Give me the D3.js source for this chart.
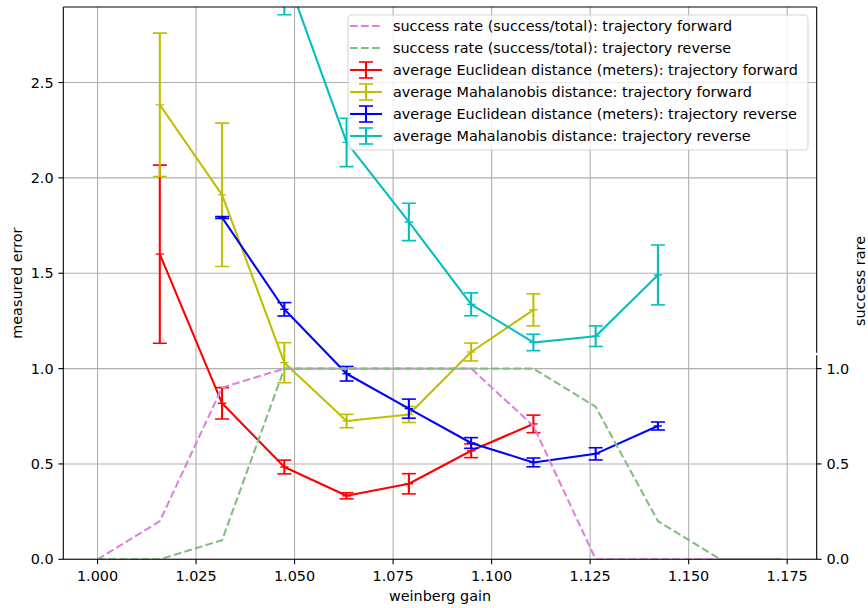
<!DOCTYPE html>
<html>
<head>
<meta charset="utf-8">
<script src="https://cdn.jsdelivr.net/npm/d3@7"></script>
<style>
  html, body { margin: 0; padding: 0; background: #fff; }
  svg { display: block; }
  text { font-family: "DejaVu Sans", sans-serif; }
</style>
</head>
<body>
<svg id="chart" width="868" height="608"></svg>
<script>
// ---------------- data ----------------
const gains = [1.0, 1.0158, 1.0316, 1.0474, 1.0632, 1.0790, 1.0948, 1.1106, 1.1264, 1.1422, 1.1580, 1.1738];

const successForward = [0, 0.2, 0.9, 1, 1, 1, 1, 0.7, 0, 0, 0, 0];
const successReverse = [0, 0, 0.1, 1, 1, 1, 1, 1, 0.8, 0.2, 0, 0];

const euclidForwardIdx = [1, 2, 3, 4, 5, 6, 7];
const euclidForward    = [1.600, 0.818, 0.484, 0.333, 0.396, 0.569, 0.710];
const euclidForwardErr = [0.467, 0.082, 0.036, 0.016, 0.053, 0.036, 0.046];

const mahalForwardIdx = [1, 2, 3, 4, 5, 6, 7];
const mahalForward    = [2.383, 1.911, 1.031, 0.725, 0.759, 1.087, 1.308];
const mahalForwardErr = [0.376, 0.376, 0.105, 0.035, 0.042, 0.047, 0.084];

const euclidReverseIdx = [2, 3, 4, 5, 6, 7, 8, 9];
const euclidReverse    = [1.792, 1.311, 0.973, 0.790, 0.610, 0.508, 0.553, 0.699];
const euclidReverseErr = [0.005, 0.035, 0.038, 0.050, 0.028, 0.023, 0.032, 0.021];

const mahalReverseIdx = [3, 4, 5, 6, 7, 8, 9];
const mahalReverse    = [3.090, 2.186, 1.769, 1.337, 1.137, 1.170, 1.491];
const mahalReverseErr = [0.235, 0.127, 0.098, 0.060, 0.043, 0.054, 0.157];

const xTicks = [1.000, 1.025, 1.050, 1.075, 1.100, 1.125, 1.150, 1.175];
const yTicksLeft = [0.0, 0.5, 1.0, 1.5, 2.0, 2.5];
const yTicksRight = [0.0, 0.5, 1.0];

const legendLabels = [
  "success rate (success/total): trajectory forward",
  "success rate (success/total): trajectory reverse",
  "average Euclidean distance (meters): trajectory forward",
  "average Mahalanobis distance: trajectory forward",
  "average Euclidean distance (meters): trajectory reverse",
  "average Mahalanobis distance: trajectory reverse"
];
const xLabel = "weinberg gain";
const yLabelLeft = "measured error";
const yLabelRight = "success rare";

// ---------------- layout ----------------
const L = 63.3, R = 816.7, T = 7, B = 559.3;
const FS = 14.4;
const LW = 2.08;

const svg = d3.select("#chart");

const xmin = d3.min(gains), xmax = d3.max(gains);
const xm = (xmax - xmin) * 0.05;
const x = d3.scaleLinear().domain([xmin - xm, xmax + xm]).range([L, R]);
const y = d3.scaleLinear().domain([0, 2.896]).range([B, T]);

svg.append("defs").append("clipPath").attr("id", "clip")
  .append("rect").attr("x", L).attr("y", T).attr("width", R - L).attr("height", B - T);

// grid
const grid = svg.append("g").attr("stroke", "#b0b0b0").attr("stroke-width", 1.1);
xTicks.forEach(t => grid.append("line").attr("x1", x(t)).attr("x2", x(t)).attr("y1", T).attr("y2", B));
yTicksLeft.forEach(t => grid.append("line").attr("x1", L).attr("x2", R).attr("y1", y(t)).attr("y2", y(t)));

const plot = svg.append("g").attr("clip-path", "url(#clip)");

function errorSeries(idx, vals, errs, color) {
  const pts = idx.map((k, i) => ({ gx: gains[k], v: vals[i], e: errs[i] }));
  const g = plot.append("g");
  g.append("path")
    .attr("d", d3.line().x(d => x(d.gx)).y(d => y(d.v))(pts))
    .attr("fill", "none").attr("stroke", color).attr("stroke-width", LW)
    .attr("stroke-linejoin", "round").attr("stroke-linecap", "square");
  pts.forEach(d => {
    const cx = x(d.gx);
    g.append("line").attr("x1", cx).attr("x2", cx).attr("y1", y(d.v - d.e)).attr("y2", y(d.v + d.e))
      .attr("stroke", color).attr("stroke-width", LW);
    [d.v - d.e, d.v + d.e].forEach(c => {
      g.append("line").attr("x1", cx - 7).attr("x2", cx + 7).attr("y1", y(c)).attr("y2", y(c))
        .attr("stroke", color).attr("stroke-width", 1.6);
    });
    // '+' marker
    g.append("line").attr("x1", cx - 4.2).attr("x2", cx + 4.2).attr("y1", y(d.v)).attr("y2", y(d.v))
      .attr("stroke", color).attr("stroke-width", 1.4);
  });
}

errorSeries(euclidForwardIdx, euclidForward, euclidForwardErr, "#ff0000");
errorSeries(mahalForwardIdx, mahalForward, mahalForwardErr, "#bfbf00");
errorSeries(euclidReverseIdx, euclidReverse, euclidReverseErr, "#0000ff");
errorSeries(mahalReverseIdx, mahalReverse, mahalReverseErr, "#00bfbf");

// success rates (twin axis, same scale)
function dashed(vals, color) {
  plot.append("path")
    .attr("d", d3.line().x((d, i) => x(gains[i])).y(d => y(d))(vals))
    .attr("fill", "none").attr("stroke", color).attr("stroke-width", LW)
    .attr("stroke-dasharray", "7.7,3.3").attr("stroke-linejoin", "round");
}
dashed(successForward, "#df80df");
dashed(successReverse, "#80bf80");

// spines
const sp = svg.append("g").attr("stroke", "#000").attr("stroke-width", 1.1).attr("fill", "none");
sp.append("line").attr("x1", L).attr("x2", R).attr("y1", T).attr("y2", T);
sp.append("line").attr("x1", L).attr("x2", R).attr("y1", B).attr("y2", B);
sp.append("line").attr("x1", L).attr("x2", L).attr("y1", T).attr("y2", B);
sp.append("line").attr("x1", R).attr("x2", R).attr("y1", T).attr("y2", 352.8);
sp.append("line").attr("x1", R).attr("x2", R).attr("y1", 355.2).attr("y2", B);

// axes ticks & labels
const ax = svg.append("g").attr("font-size", FS).attr("fill", "#000");
xTicks.forEach(t => {
  ax.append("line").attr("x1", x(t)).attr("x2", x(t)).attr("y1", B).attr("y2", B + 4.9).attr("stroke", "#000").attr("stroke-width", 1.1);
  ax.append("text").attr("x", x(t)).attr("y", 580.5).attr("text-anchor", "middle").text(d3.format(".3f")(t));
});
yTicksLeft.forEach(t => {
  ax.append("line").attr("x1", L - 4.9).attr("x2", L).attr("y1", y(t)).attr("y2", y(t)).attr("stroke", "#000").attr("stroke-width", 1.1);
  ax.append("text").attr("x", L - 9.7).attr("y", y(t)).attr("dy", "0.36em").attr("text-anchor", "end").text(d3.format(".1f")(t));
});
yTicksRight.forEach(t => {
  ax.append("line").attr("x1", R).attr("x2", R + 4.9).attr("y1", y(t)).attr("y2", y(t)).attr("stroke", "#000").attr("stroke-width", 1.1);
  ax.append("text").attr("x", R + 9.7).attr("y", y(t)).attr("dy", "0.36em").attr("text-anchor", "start").text(d3.format(".1f")(t));
});
ax.append("text").attr("x", (L + R) / 2).attr("y", 600.5).attr("text-anchor", "middle").text(xLabel);
ax.append("text").attr("transform", `translate(21.5,${(T + B) / 2}) rotate(-90)`).attr("text-anchor", "middle").text(yLabelLeft);
ax.append("text").attr("transform", `translate(864.5,281) rotate(-90)`).attr("text-anchor", "middle").text(yLabelRight);

// legend
const lg = svg.append("g");
lg.append("rect").attr("x", 348).attr("y", 15).attr("width", 460).attr("height", 135).attr("rx", 4)
  .attr("fill", "#fff").attr("fill-opacity", 0.8).attr("stroke", "#cccccc").attr("stroke-opacity", 0.8).attr("stroke-width", 1.1);
const legendColors = ["#df80df", "#80bf80", "#ff0000", "#bfbf00", "#0000ff", "#00bfbf"];
legendLabels.forEach((lab, i) => {
  const cy = 26 + i * 22;
  const c = legendColors[i];
  if (i < 2) {
    lg.append("line").attr("x1", 350).attr("x2", 382).attr("y1", cy).attr("y2", cy)
      .attr("stroke", c).attr("stroke-width", LW).attr("stroke-dasharray", "7.7,3.3");
  } else {
    lg.append("line").attr("x1", 350).attr("x2", 382).attr("y1", cy).attr("y2", cy).attr("stroke", c).attr("stroke-width", LW);
    lg.append("line").attr("x1", 366).attr("x2", 366).attr("y1", cy - 8).attr("y2", cy + 8).attr("stroke", c).attr("stroke-width", LW);
    [cy - 8, cy + 8].forEach(yy => lg.append("line").attr("x1", 359).attr("x2", 373).attr("y1", yy).attr("y2", yy).attr("stroke", c).attr("stroke-width", 1.6));
  }
  lg.append("text").attr("x", 393).attr("y", cy).attr("dy", "0.36em").attr("font-size", FS).attr("fill", "#000").text(lab);
});
</script>
</body>
</html>
